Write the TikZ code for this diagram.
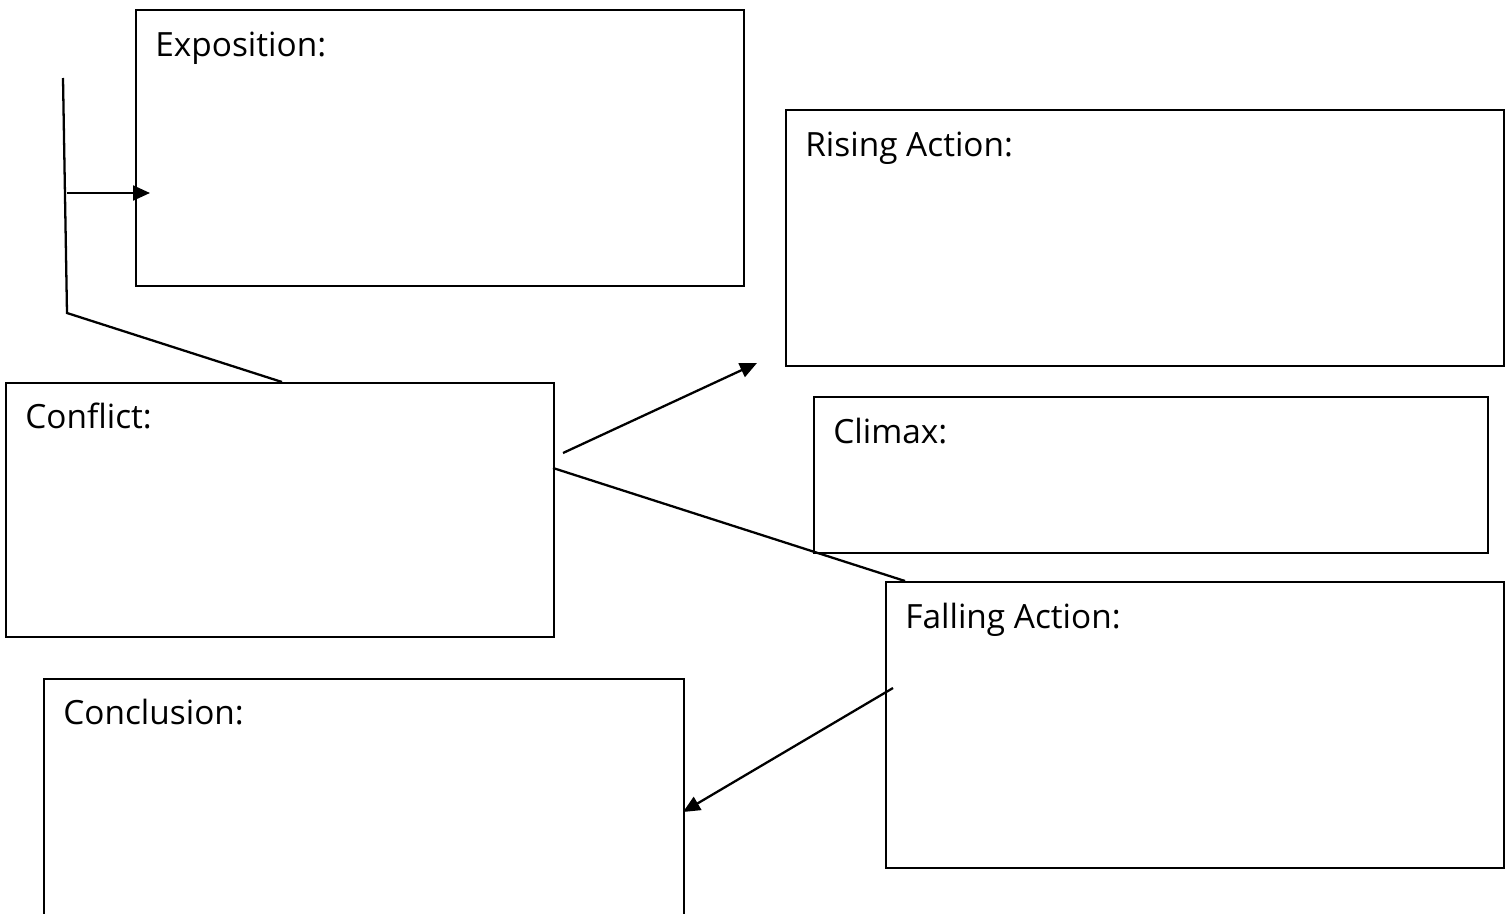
\documentclass[tikz,border=0pt]{standalone}
\usepackage{fontspec}
\setmainfont{Open Sans}
\usetikzlibrary{arrows.meta}
\begin{document}
\begin{tikzpicture}
	[x=0.02cm, y=-0.02cm,
	box/.style={draw,line width=1.1pt,anchor=north west,inner sep=0pt},
	heading/.style={anchor=base west,inner sep=0pt,font=\fontsize{19}{23}\selectfont},
	link/.style={line width=1.3pt},
	pointer/.style={link,-{Triangle[length=0.34cm,width=0.3cm]}}]

	% Page frame
	\clip (0,0) rectangle (1510,913);

	% Draw boxes
	\node[box,minimum width=12.16cm,minimum height=5.52cm] (exposition) at (135,9) {};
	\node[box,minimum width=14.36cm,minimum height=5.12cm] (rising) at (785,109) {};
	\node[box,minimum width=13.48cm,minimum height=3.12cm] (climax) at (813,396) {};
	\node[box,minimum width=10.96cm,minimum height=5.08cm] (conflict) at (5,382) {};
	\node[box,minimum width=12.36cm,minimum height=5.72cm] (falling) at (885,581) {};
	\node[box,minimum width=12.8cm,minimum height=6cm] (conclusion) at (43,678) {};

	% Headings
	\node[heading] (expositiontext) at (155,56) {Exposition:};
	\node[heading] (risingtext) at (805,156) {Rising Action:};
	\node[heading] (climaxtext) at (833,443) {Climax:};
	\node[heading] (conflicttext) at (25,428) {Conflict:};
	\node[heading] (fallingtext) at (905,628) {Falling Action:};
	\node[heading] (conclusiontext) at (63,724) {Conclusion:};

	% Connector points
	\coordinate (stemtop) at (63,78);
	\coordinate (stembend) at (67,313);
	\coordinate (stemarrow) at (67,193);
	\coordinate (expositiontip) at (150,193);
	\coordinate (conflicttop) at (282,382);
	\coordinate (conflictout) at (563,453);
	\coordinate (risingtip) at (757,363);
	\coordinate (conflictside) at (553,468);
	\coordinate (fallingtop) at (905,581);
	\coordinate (fallingout) at (893,688);
	\coordinate (conclusiontip) at (683,812);

	% Draw connectors
	\draw[link] (stemtop) -- (stembend) -- (conflicttop);
	\draw[pointer] (stemarrow) -- (expositiontip);
	\draw[pointer] (conflictout) -- (risingtip);
	\draw[link] (conflictside) -- (fallingtop);
	\draw[pointer] (fallingout) -- (conclusiontip);

\end{tikzpicture}
\end{document}
